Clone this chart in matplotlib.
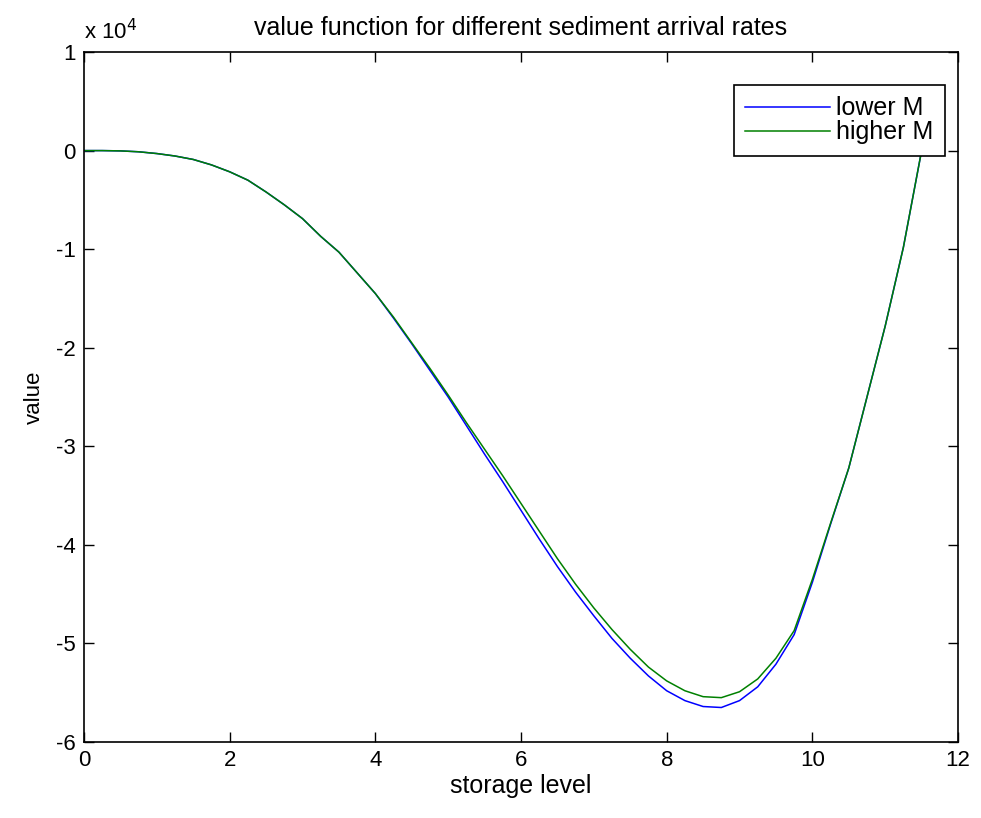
import matplotlib
matplotlib.use("Agg")
import matplotlib.pyplot as plt
from matplotlib.ticker import FuncFormatter

plt.rcParams['font.family'] = ['Liberation Sans', 'DejaVu Sans']

# storage level grid and value functions (in units of 1e4)
storage = [0.0, 0.25, 0.5, 0.75, 1.0, 1.25, 1.5, 1.75, 2.0, 2.25, 2.5, 2.75,
           3.0, 3.25, 3.5, 3.75, 4.0, 4.25, 4.5, 4.75, 5.0, 5.25, 5.5, 5.75,
           6.0, 6.25, 6.5, 6.75, 7.0, 7.25, 7.5, 7.75, 8.0, 8.25, 8.5, 8.75,
           9.0, 9.25, 9.5, 9.75, 10.0, 10.25, 10.5, 10.75, 11.0, 11.25, 11.5]

higher_M = [0.0, 0.0, -0.003, -0.012, -0.03, -0.055, -0.09, -0.145, -0.215, -0.30,
            -0.42, -0.55, -0.69, -0.87, -1.03, -1.24, -1.45, -1.69, -1.95, -2.21,
            -2.48, -2.76, -3.03, -3.30, -3.58, -3.86, -4.14, -4.40, -4.64, -4.86,
            -5.06, -5.24, -5.38, -5.48, -5.54, -5.55, -5.49, -5.36, -5.15, -4.87,
            -4.35, -3.78, -3.22, -2.50, -1.78, -0.98, 0.0]

lower_M = [0.0, 0.0, -0.003, -0.012, -0.03, -0.055, -0.09, -0.145, -0.215, -0.30,
           -0.42, -0.55, -0.69, -0.87, -1.03, -1.24, -1.45, -1.70, -1.96, -2.23,
           -2.50, -2.79, -3.08, -3.36, -3.65, -3.94, -4.22, -4.48, -4.72, -4.95,
           -5.15, -5.33, -5.48, -5.58, -5.64, -5.65, -5.58, -5.44, -5.21, -4.91,
           -4.38, -3.79, -3.22, -2.50, -1.78, -0.98, 0.0]

scale = 1e4

fig = plt.figure(figsize=(9.81, 8.18), dpi=100)
ax = fig.add_axes([0.0856, 0.0929, 0.8910, 0.8435])

ax.plot(storage, [v * scale for v in lower_M], color=(0, 0, 1), lw=1.1, label='lower M')
ax.plot(storage, [v * scale for v in higher_M], color=(0, 0.5, 0), lw=1.1, label='higher M')

ax.set_xlim(0, 12)
ax.set_ylim(-6e4, 1e4)
ax.set_xticks(range(0, 13, 2))
ax.set_yticks([i * scale for i in range(-6, 2)])
ax.yaxis.set_major_formatter(FuncFormatter(lambda v, p: '%d' % round(v / scale)))
ax.tick_params(direction='in', length=7, width=1, top=True, right=True, labelsize=16, pad=6)
for s in ax.spines.values():
    s.set_linewidth(1.2)

ax.text(0.0, 1.012, r'x 10$^4$', transform=ax.transAxes, fontsize=16, ha='left', va='bottom')
ax.set_title('value function for different sediment arrival rates', fontsize=18, pad=12)
ax.set_xlabel('storage level', fontsize=18, labelpad=2)
ax.set_ylabel('value', fontsize=16, labelpad=8)

leg = ax.legend(loc='upper right', bbox_to_anchor=(0.985, 0.952), fontsize=18,
                fancybox=False, framealpha=1, edgecolor='black', borderaxespad=0,
                handlelength=3.4, handletextpad=0.25, borderpad=0.45, labelspacing=0.0)
leg.get_frame().set_linewidth(1.2)

fig.savefig('out.png', dpi=100)
